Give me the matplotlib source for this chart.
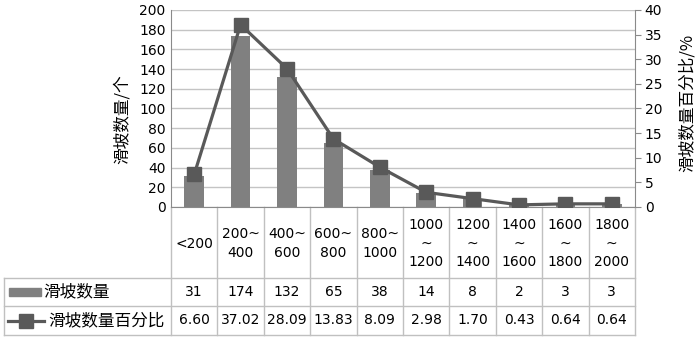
import matplotlib
matplotlib.use("Agg")
import matplotlib.pyplot as plt
from matplotlib.patches import Rectangle

plt.rcParams['font.family'] = ['DejaVu Sans', 'Noto Sans CJK SC']

categories = ['<200', '200~\n400', '400~\n600', '600~\n800', '800~\n1000',
              '1000\n~\n1200', '1200\n~\n1400', '1400\n~\n1600', '1600\n~\n1800', '1800\n~\n2000']
counts = [31, 174, 132, 65, 38, 14, 8, 2, 3, 3]
percents = [6.60, 37.02, 28.09, 13.83, 8.09, 2.98, 1.70, 0.43, 0.64, 0.64]
count_labels = ['31', '174', '132', '65', '38', '14', '8', '2', '3', '3']
percent_labels = ['6.60', '37.02', '28.09', '13.83', '8.09', '2.98', '1.70', '0.43', '0.64', '0.64']

bar_col = '#808080'
line_col = '#595959'
grid_col = '#c4c4c4'
cjk = ['Noto Sans CJK SC', 'DejaVu Sans']

W, H = 700, 340
fig = plt.figure(figsize=(7, 3.4), dpi=100)

# plot area in pixels
x0, x1, ytop, ybot = 171, 635, 10, 207
colw = (x1 - x0) / len(categories)

# table layer in figure pixel coords
tax = fig.add_axes([0, 0, 1, 1], zorder=0)
tax.set_xlim(0, W)
tax.set_ylim(H, 0)
tax.axis('off')

ax = fig.add_axes([x0 / W, 1 - ybot / H, (x1 - x0) / W, (ybot - ytop) / H], zorder=2)
ax.patch.set_alpha(0)
xs = list(range(len(categories)))
ax.bar(xs, counts, width=0.42, color=bar_col, zorder=2)
ax.set_xlim(-0.5, len(categories) - 0.5)
ax.set_ylim(0, 200)
ax.set_yticks(range(0, 201, 20))
ax.set_xticks([])
ax.grid(axis='y', color=grid_col, lw=1, zorder=0)
ax.set_axisbelow(True)
for s in ['top', 'right']:
    ax.spines[s].set_visible(False)
ax.spines['left'].set_color('#8a8a8a')
ax.spines['bottom'].set_color('#8a8a8a')
ax.tick_params(axis='y', length=0, pad=4, labelsize=10)

ax2 = ax.twinx()
ax2.plot(xs, percents, color=line_col, lw=2.3, marker='s', markersize=10.5,
         markerfacecolor=line_col, markeredgecolor=line_col, zorder=3)
ax2.set_ylim(0, 40)
ax2.set_yticks(range(0, 41, 5))
for s in ['top', 'left', 'bottom']:
    ax2.spines[s].set_visible(False)
ax2.spines['right'].set_color('#8a8a8a')
ax2.tick_params(axis='y', length=4, color='#8a8a8a', pad=3, labelsize=10)

fig.text(122 / W, 1 - 119 / H, '滑坡数量/个', rotation=90, ha='center', va='center',
         fontsize=12, family=cjk)
fig.text(687 / W, 1 - 103 / H, '滑坡数量百分比/%', rotation=90, ha='center', va='center',
         fontsize=12, family=cjk)

# data table
tl = '#c0c0c0'
r0, r1, r2, r3 = ybot, 278, 306, 335
tleft = 4
for i in range(len(categories) + 1):
    x = x0 + i * colw
    tax.plot([x, x], [r0, r3], color=tl, lw=1)
tax.plot([tleft, tleft], [r1, r3], color=tl, lw=1)
for y in [r1, r2, r3]:
    tax.plot([tleft, x1], [y, y], color=tl, lw=1)

for i, cat in enumerate(categories):
    cx = x0 + (i + 0.5) * colw
    tax.text(cx, (r0 + r1) / 2 + 1, cat, ha='center', va='center', fontsize=10,
             linespacing=1.45)
    tax.text(cx, (r1 + r2) / 2, count_labels[i], ha='center', va='center', fontsize=10)
    tax.text(cx, (r2 + r3) / 2, percent_labels[i], ha='center', va='center', fontsize=10)

# legend keys
tax.add_patch(Rectangle((9, (r1 + r2) / 2 - 4), 32, 8, color=bar_col))
tax.plot([8, 44], [(r2 + r3) / 2] * 2, color=line_col, lw=2.3)
tax.plot([26], [(r2 + r3) / 2], marker='s', markersize=9.5, color=line_col)
tax.text(43, (r1 + r2) / 2, '滑坡数量', ha='left', va='center', fontsize=12, family=cjk)
tax.text(48, (r2 + r3) / 2, '滑坡数量百分比', ha='left', va='center', fontsize=12, family=cjk)

fig.savefig('out.png', dpi=100)
